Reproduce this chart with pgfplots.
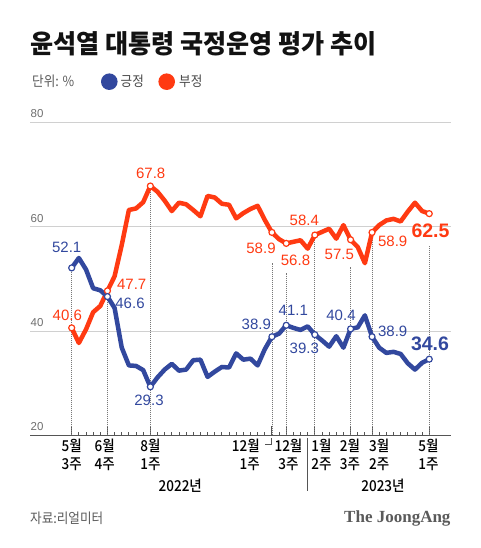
\documentclass[border=0pt]{standalone}
\usepackage{pgfplots}
\pgfplotsset{compat=1.18}
\usepackage{pgfplotstable}
\usepackage{fontspec}
\setmainfont{Liberation Sans}
\newfontfamily\kr[FakeStretch=0.9]{Noto Sans CJK KR}
\newfontfamily\krm[FakeStretch=0.9]{Noto Sans CJK KR Medium}
\newfontfamily\krt[FakeStretch=0.965]{Noto Sans CJK KR Black}
\newfontfamily\serifb{Liberation Serif}
\definecolor{posblue}{RGB}{50,72,158}
\definecolor{negred}{RGB}{255,58,18}
\definecolor{axisgray}{RGB}{85,85,85}
\definecolor{gridgray}{RGB}{208,208,208}
\definecolor{txtgray}{RGB}{90,90,90}
\definecolor{tickgray}{RGB}{110,110,110}
\definecolor{dotgray}{RGB}{120,120,120}

\pgfplotstableread{
i pos neg
0 52.1 40.6
1 54.0 37.7
2 51.8 40.3
3 48.2 43.6
4 47.8 44.8
5 46.6 47.7
6 44.4 50.5
7 36.8 56.5
8 33.4 63.2
9 33.3 63.5
10 32.5 64.7
11 29.3 67.8
12 31.1 66.7
13 32.6 65.0
14 33.7 63.0
15 32.4 64.6
16 32.6 64.3
17 34.4 63.2
18 34.5 62.0
19 31.2 65.9
20 32.2 65.6
21 33.1 64.4
22 33.0 64.2
23 35.7 61.6
24 34.5 62.6
25 34.7 63.4
26 33.4 64.0
27 36.5 61.3
28 38.9 58.9
29 39.5 57.6
30 41.1 56.8
31 40.6 57.1
32 40.2 57.4
33 40.9 55.8
34 39.3 58.4
35 38.2 59.0
36 37.0 59.6
37 39.0 57.7
38 36.8 60.3
39 40.4 57.5
40 40.7 56.1
41 43.0 53.0
42 38.9 58.9
43 36.8 60.3
44 35.8 61.2
45 36.0 61.5
46 35.6 61.0
47 33.8 62.9
48 32.6 64.6
49 33.9 63.0
50 34.6 62.5
}\datatable

\begin{document}
\begin{tikzpicture}[x=1pt,y=1pt]
\path[use as bounding box] (0,0) rectangle (480,548);
\begin{axis}[
  at={(30pt,112.7pt)}, anchor=south west,
  scale only axis, width=420.7pt, height=312.9pt,
  xmin=-5.83, xmax=53, ymin=20, ymax=80,
  axis x line*=bottom, axis y line*=left,
  y axis line style={draw=none},
  x axis line style={draw=axisgray, line width=1.1pt, -},
  xtick={0,5,11,28,30,34,39,42,50},
  minor xtick={1,...,49},
  xticklabels={}, yticklabels={},
  ytick={20,40,60,80},
  ytick style={draw=none},
  ymajorgrids, grid style={draw=gridgray, line width=0.9pt},
  tick align=inside,
  major tick length=9pt, minor tick length=3.2pt,
  xtick style={draw=axisgray, line width=0.9pt},
  clip=false,
]
% dotted guide lines
\draw[dotgray, line width=0.7pt, dash pattern=on 0.8pt off 1.2pt] (axis cs:0,20) -- (axis cs:0,52.1);
\draw[dotgray, line width=0.7pt, dash pattern=on 0.8pt off 1.2pt] (axis cs:5,20) -- (axis cs:5,47.7);
\draw[dotgray, line width=0.7pt, dash pattern=on 0.8pt off 1.2pt] (axis cs:11,20) -- (axis cs:11,67.8);
\draw[dotgray, line width=0.7pt, dash pattern=on 0.8pt off 1.2pt] (axis cs:28,20) -- (axis cs:28,53.0);
\draw[dotgray, line width=0.7pt, dash pattern=on 0.8pt off 1.2pt] (axis cs:30,20) -- (axis cs:30,51.1);
\draw[dotgray, line width=0.7pt, dash pattern=on 0.8pt off 1.2pt] (axis cs:34,20) -- (axis cs:34,58.4);
\draw[dotgray, line width=0.7pt, dash pattern=on 0.8pt off 1.2pt] (axis cs:39,20) -- (axis cs:39,52.3);
\draw[dotgray, line width=0.7pt, dash pattern=on 0.8pt off 1.2pt] (axis cs:42,20) -- (axis cs:42,58.9);
\draw[dotgray, line width=0.7pt, dash pattern=on 0.8pt off 1.2pt] (axis cs:50,20) -- (axis cs:50,56.4);
% series
\addplot[negred, line width=4.5pt, line join=round, no marks] table[x=i,y=neg] {\datatable};
\addplot[posblue, line width=4.5pt, line join=round, no marks] table[x=i,y=pos] {\datatable};
\addplot[only marks, mark=*, mark size=3pt, mark options={fill=white, draw=negred, line width=1.2pt}]
  coordinates {(0,40.6) (5,47.7) (11,67.8) (28,58.9) (30,56.8) (34,58.4) (39,57.5) (42,58.9) (50,62.5)};
\addplot[only marks, mark=*, mark size=3pt, mark options={fill=white, draw=posblue, line width=1.2pt}]
  coordinates {(0,52.1) (5,46.6) (11,29.3) (28,38.9) (30,41.1) (34,39.3) (39,40.4) (42,38.9) (50,34.6)};
\end{axis}

\begin{scope}[shift={(0,548)}, yscale=-1]
\tikzset{lbl/.style={inner sep=0pt, font=\fontsize{15}{15}\selectfont},
         blbl/.style={inner sep=0pt, font=\fontsize{19.5}{19.5}\selectfont\bfseries},
         xl/.style={inner sep=0pt, font=\krm\fontsize{15}{15}\selectfont, text=black},
         yl/.style={inner sep=0pt, anchor=west, font=\fontsize{11.5}{11.5}\selectfont, text=tickgray}}
% title
\node[anchor=west, inner sep=0pt, font=\krt\fontsize{26}{26}\selectfont, text=black!93] at (30.5,43.5) {윤석열 대통령 국정운영 평가 추이};
% unit and legend
\node[anchor=west, inner sep=0pt, font=\kr\fontsize{14}{14}\selectfont, text=txtgray] at (32,81.7) {단위: \%};
\fill[posblue] (109.3,81.7) circle (8.3);
\node[anchor=west, inner sep=0pt, font=\kr\fontsize{14}{14}\selectfont, text=txtgray!80!black] at (120.5,81.7) {긍정};
\fill[negred] (166.7,81.7) circle (8.3);
\node[anchor=west, inner sep=0pt, font=\kr\fontsize{14}{14}\selectfont, text=txtgray!80!black] at (179,81.7) {부정};
% y labels
\node[yl] at (30.5,114) {80};
\node[yl] at (30.5,218.3) {60};
\node[yl] at (30.5,322.7) {40};
\node[yl] at (30.5,426.7) {20};
% value labels blue
\node[lbl, text=posblue] at (66.7,247.3) {52.1};
\node[lbl, text=posblue] at (130,303.3) {46.6};
\node[lbl, text=posblue] at (149,400) {29.3};
\node[lbl, text=posblue] at (256.3,324) {38.9};
\node[lbl, text=posblue] at (293.3,310.5) {41.1};
\node[lbl, text=posblue] at (304.3,348.8) {39.3};
\node[lbl, text=posblue] at (341,315.8) {40.4};
\node[lbl, text=posblue] at (392.7,331.2) {38.9};
\node[blbl, text=posblue] at (430,344.2) {34.6};
% value labels red
\node[lbl, text=negred] at (67.3,315) {40.6};
\node[lbl, text=negred] at (131.7,284) {47.7};
\node[lbl, text=negred] at (150.7,173.3) {67.8};
\node[lbl, text=negred] at (261,248.7) {58.9};
\node[lbl, text=negred] at (295.5,260) {56.8};
\node[lbl, text=negred] at (304.3,220.8) {58.4};
\node[lbl, text=negred] at (339.3,254.2) {57.5};
\node[lbl, text=negred] at (392.7,241.2) {58.9};
\node[blbl, text=negred] at (430.5,231) {62.5};
% x labels
\node[xl] at (71.7,446.3) {5월};  \node[xl] at (71.7,464.5) {3주};
\node[xl] at (104.8,446.3) {6월}; \node[xl] at (104.8,464.5) {4주};
\node[xl] at (150.5,446.3) {8월}; \node[xl] at (150.5,464.5) {1주};
\node[xl, anchor=east] at (260,446.3) {12월}; \node[xl, anchor=east] at (260,464.5) {1주};
\node[xl] at (288.5,446.3) {12월}; \node[xl] at (288.5,464.5) {3주};
\node[xl] at (321.5,446.3) {1월}; \node[xl] at (321.5,464.5) {2주};
\node[xl] at (350,446.3) {2월}; \node[xl] at (350,464.5) {3주};
\node[xl] at (379.3,446.3) {3월}; \node[xl] at (379.3,464.5) {2주};
\node[xl] at (428.4,446.3) {5월}; \node[xl] at (428.4,464.5) {1주};
\draw[axisgray, line width=0.6pt] (265,444) -- (271.7,444) -- (271.7,438.5);
\node[xl] at (180.3,486) {2022년};
\node[xl] at (383,486) {2023년};
\draw[axisgray, line width=0.8pt] (307.3,438) -- (307.3,491);
% source and logo
\node[anchor=west, inner sep=0pt, font=\kr\fontsize{14}{14}\selectfont, text=txtgray] at (30,518.3) {자료:리얼미터};
\node[anchor=east, inner sep=0pt, font=\serifb\bfseries\fontsize{17}{17}\selectfont, text=txtgray] at (450.7,518.3) {The JoongAng};
\end{scope}
\end{tikzpicture}
\end{document}
